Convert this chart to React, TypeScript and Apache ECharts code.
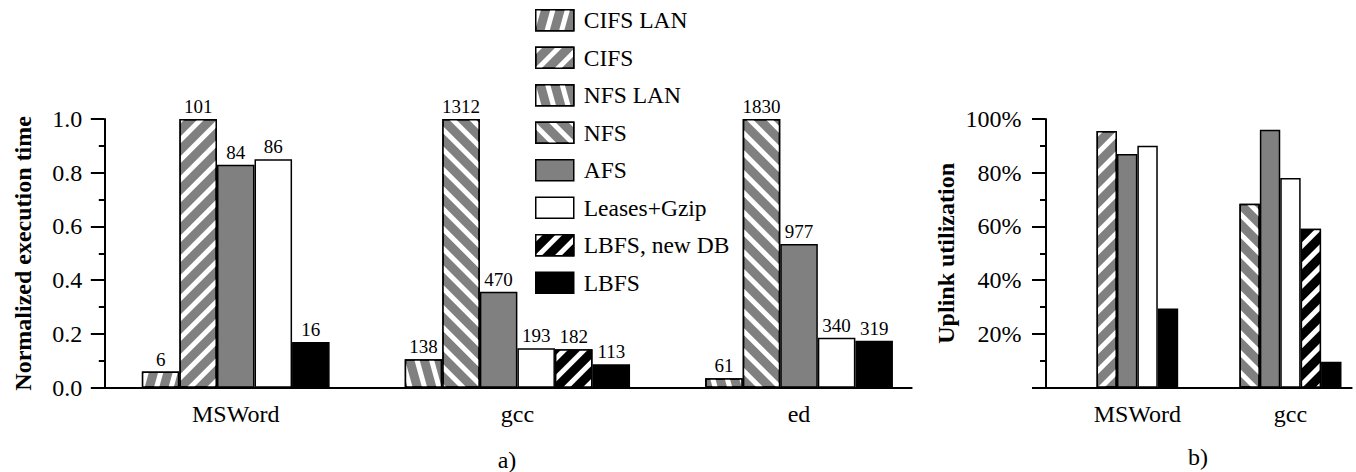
import React, { useEffect, useRef } from 'react';
import * as echarts from 'echarts';

// ---------- data ----------
const systems = ['CIFS LAN', 'CIFS', 'NFS LAN', 'NFS', 'AFS', 'Leases+Gzip', 'LBFS, new DB', 'LBFS'];

const execGroups = ['MSWord', 'gcc', 'ed'];
const execSystems = [
  ['CIFS LAN', 'CIFS', 'AFS', 'Leases+Gzip', 'LBFS'],
  ['NFS LAN', 'NFS', 'AFS', 'Leases+Gzip', 'LBFS, new DB', 'LBFS'],
  ['NFS LAN', 'NFS', 'AFS', 'Leases+Gzip', 'LBFS'],
];
const execNormalized = [
  [0.06, 1.0, 0.83, 0.85, 0.17],
  [0.106, 1.0, 0.357, 0.147, 0.143, 0.087],
  [0.035, 1.0, 0.535, 0.186, 0.175],
];
const execSeconds = [
  [6, 101, 84, 86, 16],
  [138, 1312, 470, 193, 182, 113],
  [61, 1830, 977, 340, 319],
];

const uplinkGroups = ['MSWord', 'gcc'];
const uplinkSystems = [
  ['CIFS', 'AFS', 'Leases+Gzip', 'LBFS'],
  ['NFS', 'AFS', 'Leases+Gzip', 'LBFS, new DB', 'LBFS'],
];
const uplinkPercent = [
  [95.5, 87, 90, 29.5],
  [68.5, 96, 78, 59.2, 9.7],
];

const panelLabels = ['a)', 'b)'];

// ---------- layout / style ----------
const FONT = '"Liberation Serif", "Times New Roman", Times, serif';
const GRAY = '#808080';
const GA = { left: 104.3, top: 119, width: 807.4, height: 268.7, span: 21.5, first: 3.5, step: 7.5 };
const GB = { left: 1045.5, top: 119, width: 306.2, height: 268.7, span: 15, first: 4.5, step: 7.5 };

const DIAG = Math.PI / 4;
const STEEP = 1.3;
const stripe = (rot: number, on: number, off: number) => ({
  symbol: 'rect',
  symbolSize: 1,
  dashArrayX: [1, 0],
  dashArrayY: [on, off],
  rotation: rot,
  color: '#ffffff',
});

// positive rotation gives "\" stripes, negative gives "/"
const styleOf: Record<string, any> = {
  'CIFS LAN': { color: GRAY, decal: stripe(-STEEP, 4.5, 8.5) },
  CIFS: { color: GRAY, decal: stripe(-DIAG, 5, 9) },
  'NFS LAN': { color: GRAY, decal: stripe(STEEP, 4.5, 8.5) },
  NFS: { color: GRAY, decal: stripe(DIAG, 5, 9) },
  AFS: { color: GRAY },
  'Leases+Gzip': { color: '#ffffff' },
  'LBFS, new DB': { color: '#000000', decal: stripe(-DIAG, 5, 9) },
  LBFS: { color: '#000000' },
};

function centers(g: typeof GA, n: number) {
  return Array.from({ length: n }, (_, i) => g.first + g.step * i);
}

function buildSeries(
  g: typeof GA,
  groupSys: string[][],
  values: number[][],
  labels: number[][] | null,
  axisIndex: number
) {
  const cs = centers(g, groupSys.length);
  const out: any[] = [];
  systems.forEach((s) => {
    const data: any[] = [];
    groupSys.forEach((list, gi) => {
      const i = list.indexOf(s);
      if (i < 0) return;
      const x = cs[gi] + i - (list.length - 1) / 2;
      data.push({ value: labels ? [x, values[gi][i], labels[gi][i]] : [x, values[gi][i]] });
    });
    if (!data.length) return;
    const st = styleOf[s];
    out.push({
      type: 'bar',
      name: s,
      xAxisIndex: axisIndex,
      yAxisIndex: axisIndex,
      barWidth: g.width / g.span,
      barGap: '-100%',
      data,
      itemStyle: {
        color: st.color,
        decal: st.decal,
        borderColor: '#000',
        borderWidth: 1.5,
      },
      label: labels
        ? {
            show: true,
            position: 'top',
            distance: 3,
            formatter: (p: any) => String(p.value[2]),
            fontSize: 19,
            fontFamily: FONT,
            color: '#000',
          }
        : { show: false },
      emphasis: { disabled: true },
    });
  });
  return out;
}

function xAxisFor(g: typeof GA, groups: string[], gridIndex: number) {
  const cs = centers(g, groups.length);
  return {
    type: 'value',
    gridIndex,
    min: 0,
    max: g.span,
    axisLine: { show: true, onZero: false, lineStyle: { color: '#000', width: 2 } },
    axisTick: { show: false },
    splitLine: { show: false },
    axisLabel: {
      customValues: cs,
      formatter: (v: number) => {
        const i = cs.findIndex((c) => Math.abs(c - v) < 1e-6);
        return i >= 0 ? groups[i] : '';
      },
      margin: 14,
      fontSize: 24,
      fontFamily: FONT,
      color: '#000',
    },
  };
}

function yAxisFor(gridIndex: number, max: number, interval: number, fmt: (v: number) => string, name: string, nameGap: number, margin: number) {
  return {
    type: 'value',
    gridIndex,
    min: 0,
    max,
    interval,
    axisLine: { show: true, onZero: false, lineStyle: { color: '#000', width: 2 } },
    axisTick: { show: true, length: 13.5, lineStyle: { color: '#000', width: 2 } },
    minorTick: { show: true, splitNumber: 2, length: 5.5, lineStyle: { color: '#000', width: 2 } },
    splitLine: { show: false },
    minorSplitLine: { show: false },
    axisLabel: { formatter: fmt, margin, fontSize: 24, fontFamily: FONT, color: '#000' },
    name,
    nameLocation: 'middle',
    nameGap,
    nameTextStyle: { fontWeight: 'bold', fontSize: 24, fontFamily: FONT, color: '#000' },
  };
}

export default function App() {
  const ref = useRef<HTMLDivElement>(null);
  useEffect(() => {
    if (!ref.current) return;
    const chart = echarts.init(ref.current, null, { renderer: 'svg' });
    const option: any = {
      animation: false,
      backgroundColor: '#fff',
      textStyle: { fontFamily: FONT },
      grid: [
        { left: GA.left, top: GA.top, width: GA.width, height: GA.height },
        { left: GB.left, top: GB.top, width: GB.width, height: GB.height },
      ],
      legend: {
        data: systems,
        orient: 'vertical',
        left: 535,
        top: 8.3,
        padding: 0,
        itemWidth: 38,
        itemHeight: 21,
        itemGap: 13.5,
        icon: 'rect',
        selectedMode: false,
        itemStyle: { borderColor: '#000', borderWidth: 1.5 },
        textStyle: { fontSize: 23.5, fontFamily: FONT, color: '#000', padding: [0, 0, 0, 5] },
      },
      xAxis: [xAxisFor(GA, execGroups, 0), xAxisFor(GB, uplinkGroups, 1)],
      yAxis: [
        yAxisFor(0, 1, 0.2, (v) => v.toFixed(1), 'Normalized execution time', 69, 22),
        yAxisFor(1, 100, 20, (v) => (v === 0 ? '' : v + '%'), 'Uplink utilization', 88, 24),
      ],
      series: [
        ...buildSeries(GA, execSystems, execNormalized, execSeconds, 0),
        ...buildSeries(GB, uplinkSystems, uplinkPercent, null, 1),
      ],
      graphic: [
        {
          type: 'text',
          x: 507,
          y: 460,
          style: { text: panelLabels[0], font: '24px ' + FONT, fill: '#000', align: 'center', verticalAlign: 'middle', textAlign: 'center', textVerticalAlign: 'middle' },
        },
        {
          type: 'text',
          x: 1198,
          y: 457,
          style: { text: panelLabels[1], font: '24px ' + FONT, fill: '#000', align: 'center', verticalAlign: 'middle', textAlign: 'center', textVerticalAlign: 'middle' },
        },
      ],
    };
    chart.setOption(option);
    return () => chart.dispose();
  }, []);
  return (
    <div
      ref={ref}
      style={{ position: 'absolute', left: 0, top: 0, width: 1356, height: 472, background: '#fff' }}
    />
  );
}
